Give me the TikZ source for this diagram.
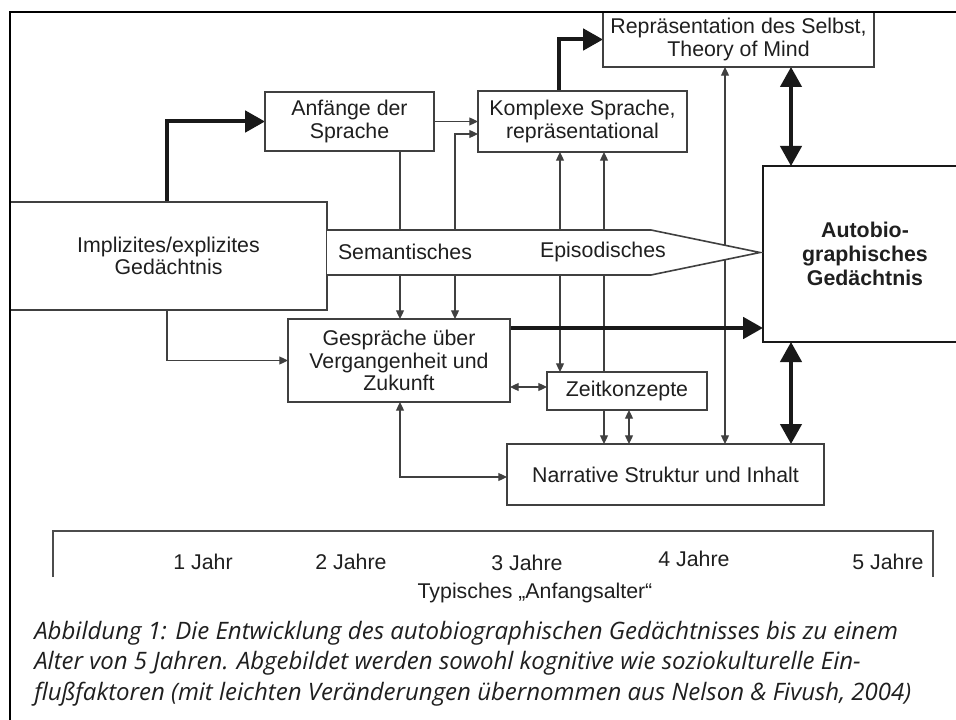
\documentclass[tikz,border=0pt]{standalone}
\usepackage{fontspec}
\setmainfont{Liberation Sans}
\newfontfamily\capfont{Open Sans}
\usetikzlibrary{arrows.meta}
\pgfdeclarelayer{lines}
\pgfsetlayers{lines,main}

% caption lines, set at a size that gives the first line its full width
\newcommand\capA{Abbildung 1: Die Entwicklung des autobiographischen Gedächtnisses bis zu einem}
\newcommand\capB{Alter von 5 Jahren. Abgebildet werden sowohl kognitive wie soziokulturelle Ein-}
\newcommand\capC{flußfaktoren (mit leichten Veränderungen übernommen aus Nelson \& Fivush, 2004)}
\newsavebox\capmeasure
\sbox\capmeasure{\capfont\itshape\fontsize{10}{12}\selectfont\capA}

\begin{document}
\pgfmathsetmacro\capsize{10*648/\the\wd\capmeasure}
\begin{tikzpicture}[x=0.75pt, y=-0.75pt,
  font=\fontsize{16}{17}\selectfont,
  box/.style={draw=black!75, line width=1.2pt, fill=white, align=center,
              inner sep=0pt, outer sep=0pt, text=black!88},
  sz/.style 2 args={minimum width=#1*0.75pt, minimum height=#2*0.75pt},
  lbl/.style={inner sep=0pt, text=black!88},
  arr/.style={draw=black!75, line width=0.9pt, -{Triangle[length=6.5pt,width=6pt]}},
  arrboth/.style={draw=black!75, line width=0.9pt,
                  {Triangle[length=6.5pt,width=6pt]}-{Triangle[length=6.5pt,width=6pt]}},
  bigarr/.style={draw=black!90, line width=3pt, -{Triangle[length=15pt,width=16pt]}},
  bigboth/.style={draw=black!90, line width=2.5pt,
                  {Triangle[length=15pt,width=16pt]}-{Triangle[length=15pt,width=16pt]}},
]
\useasboundingbox (0,0) rectangle (956,720);
\clip (0,0) rectangle (956,720);

% lanes for vertical connectors and rows for horizontal ones
\coordinate (l167) at (167,0);
\coordinate (l400) at (400,0);
\coordinate (l455) at (455,0);
\coordinate (l559) at (559,0);
\coordinate (l560) at (560,0);
\coordinate (l604) at (604,0);
\coordinate (l629) at (629,0);
\coordinate (l725) at (725,0);
\coordinate (l791) at (791,0);
\coordinate (y134) at (0,134);
\coordinate (y328) at (0,328);
\coordinate (y387) at (0,387);
\coordinate (y477) at (0,477);

% boxes
\node[box, sz={317}{108}] (impl) at (168.5,256) {Implizites/explizites\\Gedächtnis};
\node[box, sz={169}{59}] (anf) at (349.5,121.5) {Anfänge der\\Sprache};
\node[box, sz={209}{61}] (kom) at (582.5,121.5) {Komplexe Sprache,\\repräsentational};
\node[box, sz={271}{55}] (rep) at (738.5,39.5) {Repräsentation des Selbst,\\Theory of Mind};
\node[box, sz={204}{176}, line width=1.9pt, draw=black!90,
      font=\fontsize{16}{18}\selectfont\bfseries] (auto) at (865,254) {Autobio-\\graphisches\\Gedächtnis};
\node[box, sz={222}{83}] (ges) at (399,360.5) {Gespräche über\\Vergangenheit und\\Zukunft};
\node[box, sz={160}{38}] (zeit) at (627,391) {Zeitkonzepte};
\node[box, sz={317}{61}] (narr) at (665.5,474.5) {Narrative Struktur und Inhalt};

% connectors, kept behind the boxes and the memory band
\begin{pgfonlayer}{lines}
\draw[arr] (anf.south -| l400) -- (ges.north -| l400);
\draw[arrboth] (ges.north -| l455) |- (kom.west |- y134);
\draw[arr] (anf.east) -- (anf.east -| kom.west);
\draw[arrboth] (kom.south -| l560) -- (zeit.north -| l560);
\draw[arrboth] (kom.south -| l604) -- (narr.north -| l604);
\draw[arrboth] (rep.south -| l725) -- (narr.north -| l725);
\draw[arrboth] (zeit.south -| l629) -- (narr.north -| l629);
\draw[arr] (impl.south -| l167) |- (ges.west);
\draw[arrboth] (ges.east |- y387) -- (zeit.west |- y387);
\draw[arrboth] (ges.south -| l400) |- (narr.west |- y477);
\draw[bigarr] (impl.north -| l167) |- (anf.west);
\draw[bigarr] (kom.north -| l559) |- (rep.west);
\draw[bigarr] (ges.east |- y328) -- (auto.west |- y328);
\draw[bigboth] (rep.south -| l791) -- (auto.north -| l791);
\draw[bigboth] (auto.south -| l791) -- (narr.north -| l791);
\end{pgfonlayer}

% memory band: semantic part and pointed episodic part
\fill[white] (impl.east |- 0,230) -- (651,230) -- (760,252.5) -- (651,275) -- (impl.east |- 0,275) -- cycle;
\draw[draw=black!75, line width=1.2pt]
  (impl.east |- 0,230) -- (651,230) -- (760,252.5) -- (651,275) -- (impl.east |- 0,275);
\node[lbl] (sem) at (405,252) {Semantisches};
\node[lbl] (epi) at (603,252) {Episodisches};

% outer frame
\draw[black, line width=2.2pt] (10,730) -- (10,12) -- (970,12);

% age scale
\draw[draw=black!70, line width=1.1pt] (53,577) -- (53,531) -- (933,531) -- (933,577);
\node[lbl] (a1) at (203,562) {1 Jahr};
\node[lbl] (a2) at (351,562) {2 Jahre};
\node[lbl] (a3) at (527,563) {3 Jahre};
\node[lbl] (a4) at (694,559) {4 Jahre};
\node[lbl] (a5) at (888,562) {5 Jahre};
\node[lbl] (typ) at (535,593) {Typisches „Anfangsalter“};

% caption
\begin{scope}[every node/.style={lbl, anchor=west,
    font=\capfont\itshape\fontsize{\capsize}{20}\selectfont}]
\node (c1) at (34,633) {\capA};
\node (c2) at (34,663) {\capB};
\node (c3) at (34,694) {\capC};
\end{scope}
\end{tikzpicture}
\end{document}
